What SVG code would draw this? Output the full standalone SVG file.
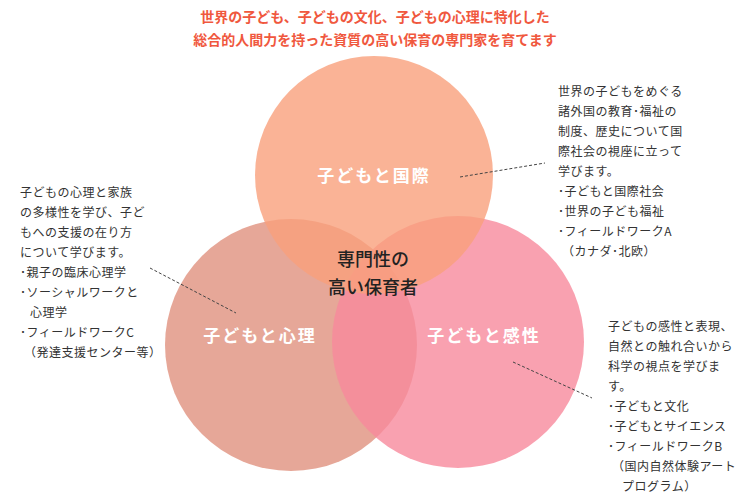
<svg xmlns="http://www.w3.org/2000/svg" width="750" height="498" viewBox="0 0 750 498">
<style>
.t{font-family:"Noto Sans CJK JP","Noto Sans",sans-serif;}
.title{font-size:14px;font-weight:bold;fill:#F0583E;text-anchor:middle}
.lab{font-size:17px;font-weight:bold;fill:#fff;text-anchor:middle;letter-spacing:2px}
.ctr{font-size:18px;font-weight:500;fill:#222;text-anchor:middle}
.d{font-size:12px;fill:#333;letter-spacing:0.5px}
.c{opacity:0.8}
.ln{stroke:#444;stroke-width:1;stroke-dasharray:3,2;fill:none}
</style>
<rect width="750" height="498" fill="#fff"/>
<g id="title" class="t">
<text class="title" x="375" y="22">世界の子ども、子どもの文化、子どもの心理に特化した</text>
<text class="title" x="375" y="45">総合的人間力を持った資質の高い保育の専門家を育てます</text>
</g>
<g id="circle-left"><circle class="c" cx="291" cy="345" r="126" fill="#E0917E"/></g>
<g id="circle-right"><circle class="c" cx="458" cy="342" r="126" fill="#F8899C"/></g>
<g id="circle-top"><circle class="c" cx="374" cy="175" r="119" fill="#F9A07C"/></g>
<g id="labels" class="t">
<text class="lab" x="374" y="182">子どもと国際</text>
<text class="lab" x="260" y="342">子どもと心理</text>
<text class="lab" x="484" y="342">子どもと感性</text>
<text class="ctr" x="373" y="266">専門性の</text>
<text class="ctr" x="373" y="294">高い保育者</text>
</g>
<g id="connectors">
<line class="ln" x1="460" y1="177" x2="545" y2="163"/>
<line class="ln" x1="150" y1="268" x2="236" y2="313"/>
<line class="ln" x1="513" y1="362" x2="592" y2="398"/>
</g>
<g id="note-top" class="t d">
<text class="d" x="558" y="96">世界の子どもをめぐる</text>
<text class="d" x="558" y="116">諸外国の教育･福祉の</text>
<text class="d" x="558" y="136">制度、歴史について国</text>
<text class="d" x="558" y="156">際社会の視座に立って</text>
<text class="d" x="558" y="176">学びます。</text>
<text class="d" x="558" y="196">･子どもと国際社会</text>
<text class="d" x="558" y="216">･世界の子ども福祉</text>
<text class="d" x="558" y="236">･フィールドワークA</text>
<text class="d" x="562" y="256">（カナダ･北欧）</text>
</g>
<g id="note-left" class="t d">
<text class="d" x="20" y="197">子どもの心理と家族</text>
<text class="d" x="20" y="217">の多様性を学び、子ど</text>
<text class="d" x="20" y="237">もへの支援の在り方</text>
<text class="d" x="20" y="257">について学びます。</text>
<text class="d" x="20" y="277">･親子の臨床心理学</text>
<text class="d" x="20" y="297">･ソーシャルワークと</text>
<text class="d" x="30" y="317">心理学</text>
<text class="d" x="20" y="337">･フィールドワークC</text>
<text class="d" x="24" y="357">（発達支援センター等）</text>
</g>
<g id="note-right" class="t d">
<text class="d" x="608" y="331">子どもの感性と表現、</text>
<text class="d" x="608" y="351">自然との触れ合いから</text>
<text class="d" x="608" y="371">科学の視点を学びま</text>
<text class="d" x="608" y="391">す。</text>
<text class="d" x="608" y="411">･子どもと文化</text>
<text class="d" x="608" y="431">･子どもとサイエンス</text>
<text class="d" x="608" y="451">･フィールドワークB</text>
<text class="d" x="612" y="471">（国内自然体験アート</text>
<text class="d" x="622" y="491">プログラム）</text>
</g>
</svg>
